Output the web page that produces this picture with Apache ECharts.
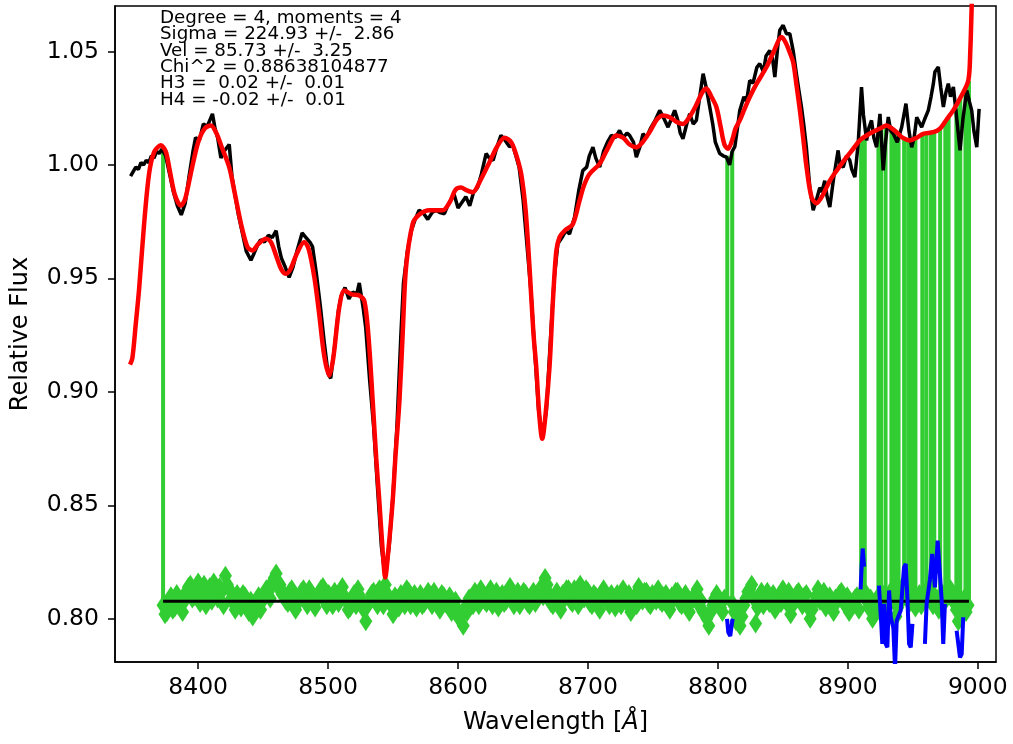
<!DOCTYPE html>
<html>
<head>
<meta charset="utf-8">
<script src="https://cdn.jsdelivr.net/npm/echarts@6/dist/echarts.min.js"></script>
<style>
  html, body { margin: 0; padding: 0; background: #fff; }
  #chart { width: 1013px; height: 744px; }
</style>
</head>
<body>
<div id="chart"></div>
<script>
// fit info printed in the corner
var fitLabels = [
  'Degree = 4, moments = 4',
  'Sigma = 224.93 +/-  2.86',
  'Vel = 85.73 +/-  3.25',
  'Chi^2 = 0.88638104877',
  'H3 =  0.02 +/-  0.01',
  'H4 = -0.02 +/-  0.01'
];

var xTicks = [8400, 8500, 8600, 8700, 8800, 8900, 9000];
var yTicks = [0.80, 0.85, 0.90, 0.95, 1.00, 1.05];

// galaxy spectrum (black)
var galWave = [8348, 8350, 8352, 8354, 8356, 8358, 8360, 8362, 8364, 8366, 8368, 8370, 8372, 8375, 8378, 8381, 8384, 8387, 8390, 8393,
  8396, 8398, 8401, 8404, 8407, 8411, 8413, 8415, 8417.5, 8420, 8423.9, 8426, 8428, 8431, 8434, 8437, 8440.6, 8443, 8446, 8448,
  8451, 8454, 8457, 8460, 8462, 8464, 8467, 8470, 8473, 8476, 8480, 8483, 8486, 8488, 8491, 8494, 8497, 8500, 8502, 8505,
  8508, 8510, 8513, 8516, 8519, 8522, 8524, 8527, 8529, 8532, 8535, 8538, 8541, 8544, 8547, 8550, 8553, 8556, 8558, 8561,
  8564, 8567, 8570, 8573, 8576.7, 8580, 8583, 8586, 8589.5, 8592, 8595, 8597, 8600, 8603.6, 8606, 8609, 8612, 8615, 8618, 8621.6,
  8624, 8627, 8630, 8633, 8636, 8639.6, 8642, 8645, 8647, 8650, 8653, 8656, 8659, 8662, 8665, 8668, 8671, 8674, 8676.8, 8680,
  8683, 8685.8, 8689.7, 8693, 8696, 8699, 8701, 8703.8, 8706, 8709, 8712, 8715, 8718, 8721, 8724.3, 8727, 8730, 8732, 8735, 8737.2,
  8740, 8742.3, 8745, 8748, 8752, 8755.2, 8758, 8761.6, 8764, 8766.7, 8769, 8771, 8773.1, 8776, 8778.3, 8781, 8783.4, 8786, 8788.6, 8791,
  8793.7, 8796, 8798, 8801.4, 8804, 8806.6, 8809, 8811, 8813, 8815, 8816.8, 8820, 8822, 8824.5, 8827, 8830, 8832.2, 8835, 8837, 8839.9,
  8842, 8843.8, 8846, 8847.6, 8850.2, 8852.7, 8855.3, 8858, 8860.4, 8862, 8864.3, 8866, 8868, 8870.7, 8873.3, 8876, 8878.4, 8880, 8882.2, 8884,
  8886.1, 8889, 8892.5, 8894, 8896.4, 8899, 8901.5, 8903, 8905.4, 8908, 8910.5, 8912, 8914.4, 8916, 8918.2, 8920, 8922.1, 8924.7, 8927.2, 8929,
  8931.1, 8933, 8935, 8938, 8941.4, 8944.7, 8947, 8949.1, 8951, 8953, 8956.8, 8959, 8961.9, 8964, 8965.8, 8967, 8969.6, 8971.5, 8973.5, 8975.5,
  8977.3, 8979, 8981.2, 8983.5, 8986.3, 8988.5, 8991.5, 8993.5, 8995.3, 8997, 8999.2, 9001];
var galFlux = [0.995, 0.997, 0.999, 0.998, 1.001, 1.000, 1.002, 1.001, 1.004, 1.003, 1.006, 1.005, 1.007, 1.004, 0.996, 0.988, 0.982, 0.978, 0.983, 0.995,
  1.006, 1.012, 1.011, 1.018, 1.017, 1.0225, 1.016, 1.012, 1.003, 1.006, 1.009, 0.995, 0.988, 0.978, 0.970, 0.962, 0.958, 0.961, 0.965, 0.967,
  0.966, 0.969, 0.968, 0.971, 0.964, 0.959, 0.955, 0.9505, 0.955, 0.962, 0.970, 0.968, 0.966, 0.964, 0.952, 0.938, 0.922, 0.908, 0.906, 0.920,
  0.936, 0.942, 0.946, 0.941, 0.944, 0.943, 0.948, 0.937, 0.928, 0.905, 0.885, 0.858, 0.832, 0.818, 0.832, 0.855, 0.885, 0.925, 0.948, 0.962,
  0.971, 0.976, 0.980, 0.979, 0.976, 0.979, 0.980, 0.979, 0.9785, 0.982, 0.985, 0.987, 0.981, 0.984, 0.986, 0.982, 0.988, 0.990, 0.996, 1.005,
  1.003, 1.002, 1.008, 1.013, 1.011, 1.008, 1.009, 1.003, 0.999, 0.985, 0.965, 0.945, 0.918, 0.892, 0.880, 0.892, 0.922, 0.950, 0.9652, 0.968,
  0.971, 0.9696, 0.977, 0.989, 0.9975, 0.999, 1.004, 1.0078, 1.003, 0.999, 1.006, 1.010, 1.013, 1.012, 1.0152, 1.012, 1.014, 1.013, 1.010, 1.0034,
  1.008, 1.0137, 1.012, 1.016, 1.020, 1.024, 1.021, 1.0166, 1.020, 1.024, 1.020, 1.014, 1.0115, 1.018, 1.0225, 1.018, 1.0196, 1.030, 1.0402, 1.034,
  1.0255, 1.018, 1.010, 1.005, 1.004, 1.0034, 1.000, 1.006, 1.008, 1.016, 1.024, 1.030, 1.028, 1.0372, 1.036, 1.043, 1.0446, 1.041, 1.048, 1.0504,
  1.047, 1.0387, 1.052, 1.0593, 1.0615, 1.0578, 1.0578, 1.050, 1.0402, 1.034, 1.0255, 1.018, 1.008, 0.9902, 0.980, 0.985, 0.990, 0.988, 0.993, 0.986,
  0.9814, 0.994, 1.0064, 1.000, 0.999, 1.004, 1.002, 0.998, 0.9946, 1.010, 1.0343, 1.022, 1.0108, 1.016, 1.0196, 1.012, 1.0078, 1.0225, 0.9976, 1.010,
  1.0211, 1.015, 1.0137, 1.010, 1.0166, 1.027, 1.015, 1.0078, 1.012, 1.021, 1.0166, 1.020, 1.024, 1.030, 1.0358, 1.041, 1.0431, 1.034, 1.0255, 1.032,
  1.0358, 1.030, 1.0343, 1.022, 1.0064, 1.020, 1.0328, 1.028, 1.024, 1.015, 1.0078, 1.0247];

// best fit (red)
var fitWave = [8347.6, 8349.4, 8352, 8354.5, 8358.4, 8362.2, 8366.1, 8371.3, 8375, 8378, 8382, 8386.7, 8390, 8395, 8400, 8405, 8409.8, 8414, 8418, 8423.9,
  8428, 8433, 8438, 8441.8, 8446, 8452.2, 8456, 8460, 8464, 8467.6, 8471, 8476, 8481.7, 8485, 8489.4, 8493, 8497, 8500.9, 8504, 8508.6,
  8512.5, 8518, 8524, 8527.9, 8531, 8534.3, 8537, 8539.4, 8542, 8544, 8546, 8549.7, 8552, 8554.9, 8557.5, 8560, 8565.1, 8570, 8578, 8583,
  8588.2, 8594, 8598, 8602.4, 8606, 8611.3, 8617, 8624.2, 8630, 8635.7, 8640.9, 8645, 8648.6, 8652, 8655, 8658, 8660.2, 8662.5, 8664.8, 8667,
  8670.4, 8673, 8675.6, 8678, 8682, 8688.4, 8693.5, 8697, 8701.2, 8709, 8715, 8721.8, 8727, 8732, 8737.2, 8742, 8748, 8753, 8757.7, 8763,
  8768, 8773.1, 8778, 8783, 8788, 8791.1, 8795, 8798.8, 8802, 8805, 8807.8, 8811, 8813.5, 8816.8, 8820, 8824.5, 8830, 8837.4, 8843, 8849,
  8852, 8855.3, 8858, 8860.5, 8863.1, 8866, 8868.2, 8872, 8875.9, 8880, 8886.2, 8892, 8899, 8904, 8909.2, 8916, 8924.7, 8929.8, 8934, 8937.5,
  8942, 8947.8, 8953, 8958, 8965.7, 8970.9, 8976, 8981.1, 8987, 8992.7, 8994.2, 8995.3, 8997, 8999];
var fitFlux = [0.912, 0.915, 0.930, 0.945, 0.974, 0.996, 1.0056, 1.0086, 1.006, 0.998, 0.987, 0.982, 0.985, 0.998, 1.010, 1.016, 1.0174, 1.014, 1.008, 0.999,
  0.988, 0.974, 0.9638, 0.9623, 0.965, 0.9675, 0.966, 0.960, 0.954, 0.952, 0.954, 0.961, 0.966, 0.963, 0.9505, 0.935, 0.916, 0.9072, 0.915, 0.9373,
  0.9447, 0.943, 0.9425, 0.940, 0.925, 0.8962, 0.871, 0.8521, 0.830, 0.8183, 0.828, 0.852, 0.873, 0.896, 0.927, 0.955, 0.974, 0.978, 0.980, 0.980,
  0.980, 0.984, 0.989, 0.990, 0.989, 0.988, 0.993, 1.0012, 1.008, 1.012, 1.010, 1.004, 0.996, 0.980, 0.955, 0.926, 0.9109, 0.890, 0.8793, 0.888,
  0.911, 0.940, 0.962, 0.968, 0.971, 0.974, 0.9843, 0.991, 0.996, 1.0005, 1.007, 1.013, 1.012, 1.009, 1.0078, 1.010, 1.015, 1.020, 1.0218, 1.021,
  1.019, 1.018, 1.021, 1.026, 1.032, 1.0336, 1.030, 1.0255, 1.017, 1.009, 1.0071, 1.011, 1.016, 1.0196, 1.024, 1.0299, 1.036, 1.0431, 1.050, 1.0563,
  1.054, 1.0495, 1.045, 1.035, 1.024, 1.010, 0.999, 0.9858, 0.9831, 0.986, 0.9931, 0.998, 1.0034, 1.007, 1.0108, 1.0135, 1.016, 1.0174, 1.016, 1.0144,
  1.012, 1.0108, 1.012, 1.0137, 1.0144, 1.016, 1.020, 1.024, 1.030, 1.0372, 1.050, 1.070, 1.100, 1.130];

// residuals on good pixels (green diamonds), '-' = masked
// first set every 3 A from 8373, second set every 3 A from 8374.5
var residStart = 8373;
var residStart2 = 8374.5;
var residStep = 3;
var residFlux = [0.806, 0.803, 0.810, 0.805, 0.809, 0.803, 0.812, 0.815, 0.810, 0.816, 0.811, 0.806, 0.814, 0.816, 0.809, 0.812, 0.819, 0.813, 0.807, 0.811,
  0.805, 0.810, 0.803, 0.801, 0.807, 0.804, 0.810, 0.812, 0.816, 0.820, 0.815, 0.811, 0.807, 0.813, 0.804, 0.809, 0.813, 0.806, 0.811, 0.805,
  0.810, 0.814, 0.806, 0.809, 0.812, 0.807, 0.814, 0.808, 0.805, 0.811, 0.813, 0.807, 0.799, 0.808, 0.812, 0.806, 0.810, 0.815, 0.809, 0.802,
  0.808, 0.811, 0.806, 0.812, 0.808, 0.805, 0.811, 0.807, 0.812, 0.806, 0.809, 0.804, 0.810, 0.806, 0.803, 0.808, 0.800, 0.797, 0.803, 0.809,
  0.812, 0.806, 0.811, 0.807, 0.813, 0.809, 0.805, 0.811, 0.808, 0.814, 0.806, 0.812, 0.808, 0.811, 0.806, 0.812, 0.809, 0.814, 0.818, 0.811,
  0.806, 0.812, 0.804, 0.809, 0.813, 0.807, 0.811, 0.815, 0.809, 0.812, 0.806, 0.810, 0.804, 0.813, 0.808, 0.811, 0.805, 0.809, 0.813, 0.807,
  0.803, 0.810, 0.814, 0.808, 0.812, 0.806, 0.810, 0.813, 0.807, 0.811, 0.804, 0.809, 0.812, 0.806, 0.811, 0.803, 0.809, 0.813, 0.808, 0.802,
  0.797, 0.806, 0.811, 0.805, 0.809, '-', 0.807, 0.799, 0.797, 0.806, 0.812, 0.815, 0.798, 0.810, 0.806, 0.812, 0.808, 0.804, 0.810, 0.813,
  0.807, 0.802, 0.809, 0.812, 0.806, 0.811, 0.800, 0.807, 0.813, 0.809, 0.805, 0.810, 0.803, 0.808, 0.812, 0.806, 0.803, 0.807, 0.810, '-',
  0.812, 0.805, 0.800, 0.808, 0.803, 0.811, 0.806, 0.813, 0.801, 0.807, 0.815, 0.810, 0.813, 0.805, 0.811, 0.808, 0.813, 0.810, 0.807, 0.804,
  0.811, 0.809, 0.813, 0.807, 0.799, 0.806, 0.803];
var residFlux2 = [0.802, 0.808, 0.804, 0.811, 0.806, 0.808, 0.814, 0.809, 0.813, 0.807, 0.815, 0.812, 0.808, 0.811, 0.814, 0.806, 0.815, 0.809, 0.804, 0.808,
  0.811, 0.806, 0.808, 0.805, 0.810, 0.808, 0.813, 0.809, 0.818, 0.814, 0.811, 0.808, 0.812, 0.809, 0.807, 0.812, 0.809, 0.813, 0.807, 0.809,
  0.813, 0.808, 0.811, 0.806, 0.809, 0.812, 0.810, 0.804, 0.809, 0.806, 0.810, 0.804, 0.806, 0.811, 0.808, 0.813, 0.806, 0.811, 0.806, 0.810,
  0.805, 0.809, 0.813, 0.806, 0.811, 0.809, 0.806, 0.810, 0.808, 0.812, 0.806, 0.811, 0.807, 0.810, 0.806, 0.804, 0.802, 0.805, 0.809, 0.806,
  0.809, 0.813, 0.808, 0.810, 0.806, 0.812, 0.809, 0.807, 0.812, 0.810, 0.809, 0.806, 0.812, 0.807, 0.810, 0.807, 0.812, 0.810, 0.815, 0.807,
  0.810, 0.807, 0.811, 0.813, 0.808, 0.813, 0.806, 0.810, 0.813, 0.807, 0.811, 0.806, 0.809, 0.810, 0.806, 0.808, 0.811, 0.806, 0.810, 0.811,
  0.808, 0.806, 0.810, 0.812, 0.807, 0.811, 0.808, 0.808, 0.810, 0.806, 0.810, 0.812, 0.807, 0.809, 0.806, 0.808, 0.811, 0.806, 0.803, 0.800,
  0.803, 0.809, 0.807, 0.803, '-', '-', 0.803, 0.804, 0.801, 0.809, 0.813, 0.809, 0.805, 0.812, 0.809, 0.807, 0.811, 0.808, 0.807, 0.809,
  0.812, 0.806, 0.811, 0.808, 0.810, 0.805, 0.804, 0.810, 0.808, 0.812, 0.808, 0.806, 0.809, 0.811, 0.808, 0.810, 0.806, 0.809, 0.804, '-',
  0.808, 0.809, 0.804, 0.810, 0.807, 0.807, 0.810, 0.808, 0.805, 0.810, 0.811, 0.807, 0.809, 0.808, 0.806, 0.811, 0.809, 0.806, 0.809, 0.807,
  0.808, 0.812, 0.810, 0.804, 0.803, 0.809, 0.806];

// zero level of the residuals (black)
var baseWave = [8373, 8993.2];
var baseLevel = 0.8078;

// edges of the good-pixel ranges (green verticals) and galaxy value there
var edgeWave = [8373, 8807.2, 8811, 8910.2, 8913, 8923.5, 8925.5, 8929, 8933.5, 8936.5, 8939, 8943.3, 8946.5, 8949.5, 8952,
  8957.3, 8960.5, 8964, 8966.5, 8971, 8975, 8977.5, 8983.5, 8986.5, 8990.5, 8993.2];
var edgeTop = [1.006, 1.004, 1.006, 1.011, 1.012, 1.0155, 1.016, 1.017, 1.016, 1.0145, 1.014, 1.012, 1.011, 1.011, 1.011,
  1.0135, 1.014, 1.0145, 1.015, 1.016, 1.019, 1.021, 1.025, 1.029, 1.034, 1.037];

// residuals in masked regions (blue), null = break
var blueWave = [8807, 8808, 8809.5, 8811, 8811.5, null,
  8909.8, 8910.5, 8911.4, 8912.5, null,
  8923.9, 8925.7, 8926.5, 8927.8, 8929.1, 8930.4, 8931.7, 8933, 8935, 8936.3, 8937.6, 8940.7, 8943.2, 8944.5, 8945.8, 8947.1, 8948.4, 8949.7, null,
  8959.3, 8960.6, 8963.2, 8964.9, 8967, 8969.1, 8970.3, 8972.2, 8973.4, 8974.7, null,
  8983.7, 8986.3, 8987.6, 8988.8];
var blueFlux = [0.800, 0.794, 0.7925, 0.799, 0.800, null,
  0.813, 0.822, 0.831, 0.823, null,
  0.8147, 0.7978, 0.789, 0.8066, 0.789, 0.7875, 0.8125, 0.8007, 0.796, 0.7780, 0.7993, 0.8037, 0.8227, 0.8242, 0.8095, 0.789, 0.7875, 0.7978, null,
  0.789, 0.8067, 0.8175, 0.8286, 0.8139, 0.8345, 0.8345, 0.8081, 0.789, 0.8066, null,
  0.7948, 0.783, 0.7845, 0.8007];

function pairs(xs, ys) {
  return xs.map(function (x, i) {
    return [x, ys[i]];
  });
}

var residData = residFlux.map(function (v, i) {
  return [residStart + i * residStep, v];
}).concat(residFlux2.map(function (v, i) {
  return [residStart2 + i * residStep, v];
}));

var edgeData = [];
edgeWave.forEach(function (x, i) {
  edgeData.push([x, baseLevel], [x, edgeTop[i]], [x, '-']);
});

// a null wavelength starts a new blue piece
var blueData = blueWave.map(function (x, i) {
  return x == null ? [blueWave[i - 1], '-'] : [x, blueFlux[i]];
});

var tickFont = { fontFamily: 'DejaVu Sans', fontSize: 23.5, color: '#000' };

var option = {
  backgroundColor: '#fff',
  animation: false,
  grid: {
    left: 115,
    right: 17,
    top: 6,
    bottom: 82,
    show: true,
    borderColor: '#000',
    borderWidth: 1.5
  },
  xAxis: {
    type: 'value',
    min: 8336,
    max: 9014,
    name: 'Wavelength [{i|Å}]',
    nameLocation: 'middle',
    nameGap: 49,
    nameTextStyle: {
      fontFamily: 'DejaVu Sans', fontSize: 24, color: '#000',
      rich: { i: { fontFamily: 'DejaVu Sans', fontSize: 24, fontStyle: 'italic', color: '#000' } }
    },
    splitLine: { show: false },
    axisLine: { lineStyle: { color: '#000', width: 1.5 } },
    axisTick: { inside: false, length: 7, lineStyle: { color: '#000', width: 1.5 }, customValues: xTicks },
    axisLabel: Object.assign({
      margin: 14,
      customValues: xTicks,
      formatter: function (v) { return String(v); }
    }, tickFont)
  },
  yAxis: {
    type: 'value',
    min: 0.781,
    max: 1.07,
    name: 'Relative Flux',
    nameLocation: 'middle',
    nameRotate: 90,
    nameGap: 82,
    nameTextStyle: { fontFamily: 'DejaVu Sans', fontSize: 24, color: '#000' },
    splitLine: { show: false },
    axisLine: { show: true, lineStyle: { color: '#000', width: 1.5 } },
    axisTick: { show: true, inside: false, length: 7, lineStyle: { color: '#000', width: 1.5 }, customValues: yTicks },
    axisLabel: Object.assign({
      margin: 16,
      customValues: yTicks,
      formatter: function (v) { return v.toFixed(2); }
    }, tickFont)
  },
  graphic: [{
    type: 'text',
    left: 160,
    top: 9,
    z: 100,
    style: {
      text: fitLabels.join('\n'),
      fontFamily: 'DejaVu Sans',
      fontSize: 18.3,
      lineHeight: 16.4,
      fill: '#000'
    }
  }],
  series: [
    {
      name: 'edges',
      type: 'line',
      z: 1,
      showSymbol: false,
      connectNulls: false,
      lineStyle: { color: '#32cd32', width: 4 },
      data: edgeData
    },
    {
      name: 'resid',
      type: 'scatter',
      z: 2,
      symbol: 'diamond',
      symbolSize: [13, 20],
      itemStyle: { color: '#32cd32', opacity: 1 },
      data: residData
    },
    {
      name: 'galaxy',
      type: 'line',
      z: 3,
      showSymbol: false,
      lineStyle: { color: '#000', width: 3.5 },
      data: pairs(galWave, galFlux)
    },
    {
      name: 'bestfit',
      type: 'line',
      z: 4,
      showSymbol: false,
      smooth: 0.3,
      clip: true,
      lineStyle: { color: '#ff0000', width: 4.5 },
      data: pairs(fitWave, fitFlux)
    },
    {
      name: 'zero',
      type: 'line',
      z: 5,
      showSymbol: false,
      lineStyle: { color: '#000', width: 3 },
      data: baseWave.map(function (x) { return [x, baseLevel]; })
    },
    {
      name: 'masked',
      type: 'line',
      z: 6,
      showSymbol: false,
      connectNulls: false,
      clip: true,
      lineStyle: { color: '#0000ff', width: 4 },
      data: blueData
    }
  ]
};

var myChart = echarts.init(document.getElementById('chart'));
myChart.setOption(option);
window.addEventListener('resize', function () {
  myChart.resize();
});
</script>
</body>
</html>
